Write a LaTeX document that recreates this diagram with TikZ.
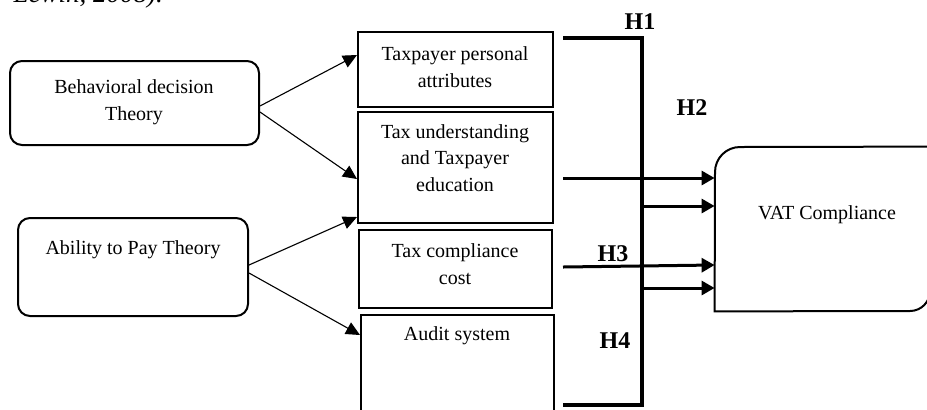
\documentclass[tikz,border=0pt]{standalone}
\usepackage{fontspec}
\setmainfont{Liberation Serif}
\usetikzlibrary{arrows.meta,fit,calc}
\begin{document}
\begin{tikzpicture}[x=0.5pt,y=-0.5pt,
  box/.style={draw, line width=1pt, inner sep=0pt},
  rbox/.style={box, rounded corners=6pt},
  lbl/.style={align=center, font=\fontsize{10}{13.3}\selectfont, inner sep=0pt},
  hyp/.style={font=\fontsize{12}{14}\selectfont\bfseries, inner sep=0pt},
  thinarrow/.style={line width=0.55pt, -{Triangle[length=7pt,width=6.5pt]}},
  thickarrow/.style={line width=1.5pt, -{Triangle[length=6.5pt,width=7pt]}},
  bracket/.style={line width=1.6pt}]
\useasboundingbox (0,0) rectangle (927,409);
\clip (0,0) rectangle (927,409);
% truncated caption at top
\node[anchor=base west, font=\fontsize{13.5}{16}\selectfont\itshape, inner sep=0pt] (src) at (-4,2) {r Lewin, 2008).};
% theory boxes
\node[rbox, fit={(10,61) (259,145)}] (bdt) {};
\node[lbl] (bdtl) at (134,102) {Behavioral decision\\Theory};
\node[rbox, fit={(18,218) (248,316)}] (apt) {};
\node[lbl] (aptl) at (133,250) {Ability to Pay Theory};
% variable boxes
\node[box, fit={(358,32) (553,107)}] (tpa) {};
\node[lbl] (tpal) at (455,67) {Taxpayer personal\\attributes};
\node[box, fit={(358,112) (553,223)}] (tu) {};
\node[lbl] (tul) at (455,158) {Tax understanding\\and Taxpayer\\education};
\node[box, fit={(359,230) (552,308)}] (tcc) {};
\node[lbl] (tccl) at (455,264) {Tax compliance\\cost};
\node[box, fit={(361,315) (554,440)}] (aud) {};
\node[lbl] (audl) at (457,336) {Audit system};
% VAT compliance box
\node[inner sep=0pt, fit={(715,147) (930,311)}] (vat) {};
\draw[line width=1pt] (vat.north east) -- (740,147) arc[start angle=270, end angle=180, radius=25] -- (vat.south west) -- (910,311) arc[start angle=90, end angle=0, radius=20] -- (vat.north east);
\node[lbl] (vatl) at (827,215) {VAT Compliance};
% theory arrows
\draw[thinarrow] ($(bdt.east)+(0,3)$) -- (tpa.west |- 0,55);
\draw[thinarrow] ($(bdt.east)+(0,9)$) -- (tu.west |- 0,179);
\draw[thinarrow] ($(apt.east)+(0,-2)$) -- (tu.west |- 0,217);
\draw[thinarrow] ($(apt.east)+(0,6)$) -- (aud.west |- 0,335);
% bracket
\coordinate (b1) at (563,38);
\coordinate (b2) at (642,38);
\coordinate (b3) at (642,405);
\coordinate (b4) at (563,405);
\draw[bracket] (b1) -- (b2) -- (b3) -- (b4);
% hypothesis arrows
\coordinate (a1) at (563,178);
\coordinate (a2) at (642,206);
\coordinate (a3) at (563,267);
\coordinate (a4) at (642,288);
\draw[thickarrow] (a1) -- (vat.west |- a1);
\draw[thickarrow] (a2) -- (vat.west |- a2);
\draw[thickarrow] (a3) -- (vat.west |- 0,265);
\draw[thickarrow] (a4) -- (vat.west |- a4);
% hypothesis labels
\node[hyp] (h1) at (640,22) {H1};
\node[hyp] (h2) at (692,108) {H2};
\node[hyp] (h3) at (613,254) {H3};
\node[hyp] (h4) at (615,341) {H4};
\end{tikzpicture}
\end{document}
